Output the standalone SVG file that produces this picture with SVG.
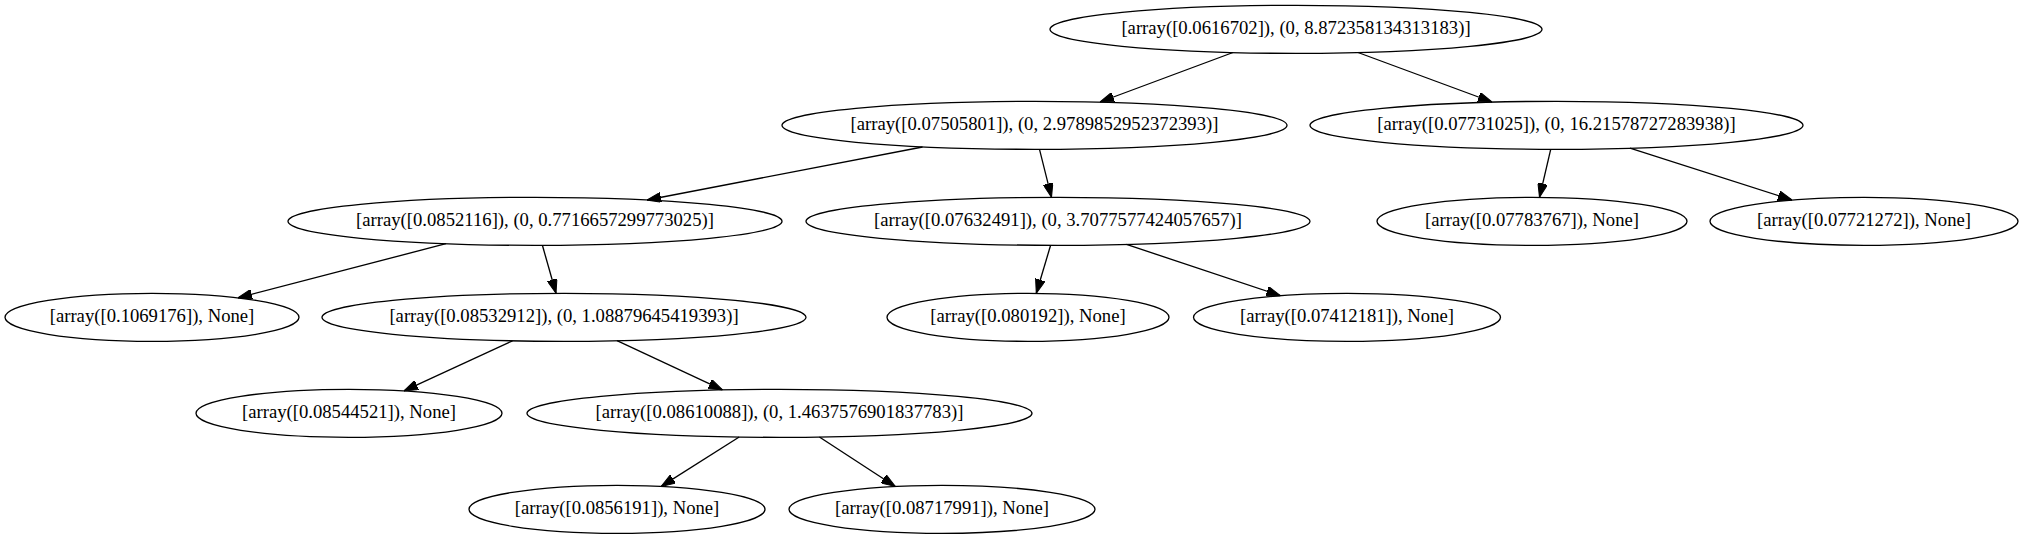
<svg xmlns="http://www.w3.org/2000/svg" width="2023" height="539" viewBox="0 0 2023 539">
<style>
.n ellipse{fill:none;stroke:#000;stroke-width:1.33}
.n text{font-family:"Liberation Serif","Times New Roman",serif;font-size:18.67px;text-anchor:middle;fill:#000}
.e path{fill:none;stroke:#000;stroke-width:1.33;marker-end:url(#ah)}
</style>
<defs>
<marker id="ah" markerUnits="userSpaceOnUse" markerWidth="14" markerHeight="10" viewBox="0 0 13.33 9.33" refX="13.33" refY="4.67" orient="auto">
<path d="M0,0 L13.33,4.67 L0,9.33 z" fill="#000" stroke="#000" stroke-width="1"/>
</marker>
</defs>
<rect width="2023" height="539" fill="#fff"/>
<g id="edges" class="e">
<path d="M1233,52.5 L1100,102"/>
<path d="M1358,52.5 L1492,102"/>
<path d="M922.5,147 L647,200"/>
<path d="M1039.5,149.3 L1051.5,197.3"/>
<path d="M1550.7,149.3 L1539.5,197.3"/>
<path d="M1630,148.2 L1792,200"/>
<path d="M446,243.7 L238,297.8"/>
<path d="M542.4,245.3 L556,293.3"/>
<path d="M1050.6,245.3 L1036.3,293.3"/>
<path d="M1126.5,244.4 L1280.5,295.7"/>
<path d="M512.5,340.8 L404,390.9"/>
<path d="M617,340.7 L722.5,389.9"/>
<path d="M739.2,437 L661.2,486.4"/>
<path d="M819.4,437 L895.3,486.5"/>
</g>
<g id="n_root" class="n"><ellipse cx="1296" cy="29.33" rx="246" ry="24"/><text x="1296" y="34.3">[array([0.0616702]), (0, 8.872358134313183)]</text></g>
<g id="n_a" class="n"><ellipse cx="1034.5" cy="125.33" rx="252.5" ry="24"/><text x="1034.5" y="130.3">[array([0.07505801]), (0, 2.9789852952372393)]</text></g>
<g id="n_b" class="n"><ellipse cx="1556.5" cy="125.33" rx="246.5" ry="24"/><text x="1556.5" y="130.3">[array([0.07731025]), (0, 16.21578727283938)]</text></g>
<g id="n_c" class="n"><ellipse cx="535" cy="221.33" rx="247" ry="24"/><text x="535" y="226.3">[array([0.0852116]), (0, 0.7716657299773025)]</text></g>
<g id="n_d" class="n"><ellipse cx="1058" cy="221.33" rx="252" ry="24"/><text x="1058" y="226.3">[array([0.07632491]), (0, 3.7077577424057657)]</text></g>
<g id="n_e" class="n"><ellipse cx="1532" cy="221.33" rx="155" ry="24"/><text x="1532" y="226.3">[array([0.07783767]), None]</text></g>
<g id="n_f" class="n"><ellipse cx="1864" cy="221.33" rx="154" ry="24"/><text x="1864" y="226.3">[array([0.07721272]), None]</text></g>
<g id="n_g" class="n"><ellipse cx="152" cy="317.33" rx="147" ry="24"/><text x="152" y="322.3">[array([0.1069176]), None]</text></g>
<g id="n_h" class="n"><ellipse cx="564" cy="317.33" rx="242" ry="24"/><text x="564" y="322.3">[array([0.08532912]), (0, 1.08879645419393)]</text></g>
<g id="n_i" class="n"><ellipse cx="1028" cy="317.33" rx="141" ry="24"/><text x="1028" y="322.3">[array([0.080192]), None]</text></g>
<g id="n_j" class="n"><ellipse cx="1347" cy="317.33" rx="153.5" ry="24"/><text x="1347" y="322.3">[array([0.07412181]), None]</text></g>
<g id="n_k" class="n"><ellipse cx="349" cy="413.33" rx="153" ry="24"/><text x="349" y="418.3">[array([0.08544521]), None]</text></g>
<g id="n_l" class="n"><ellipse cx="779.5" cy="413.33" rx="252.5" ry="24"/><text x="779.5" y="418.3">[array([0.08610088]), (0, 1.4637576901837783)]</text></g>
<g id="n_m" class="n"><ellipse cx="617" cy="509.33" rx="148" ry="24"/><text x="617" y="514.3">[array([0.0856191]), None]</text></g>
<g id="n_n" class="n"><ellipse cx="942" cy="509.33" rx="153" ry="24"/><text x="942" y="514.3">[array([0.08717991]), None]</text></g>
</svg>
